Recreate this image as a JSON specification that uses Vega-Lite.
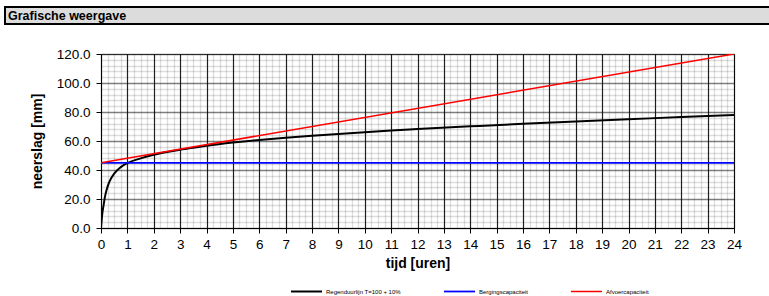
{
  "$schema": "https://vega.github.io/schema/vega-lite/v6.json",
  "padding": {"left": 4, "top": 6, "right": 0, "bottom": 0},
  "background": "white",
  "config": {"font": "Liberation Sans", "view": {"stroke": null}},
  "bounds": "flush",
  "center": true,
  "spacing": 30,
  "vconcat": [
    {
      "width": 825,
      "height": 17,
      "view": {"fill": "#dcdcdc", "stroke": "#000000", "strokeWidth": 2},
      "title": {
        "text": "Grafische weergave",
        "anchor": "start",
        "frame": "group",
        "orient": "none",
        "baseline": "alphabetic",
        "align": "left",
        "fontSize": 12.5,
        "fontWeight": "bold",
        "font": "Liberation Sans",
        "color": "#000000",
        "dx": 3,
        "dy": 13
      },
      "data": {"values": [{"k": 1}]},
      "mark": {"type": "text", "text": ""},
      "encoding": {}
    },
    {
      "width": 633,
      "height": 174,
      "view": {"stroke": "#595959", "strokeWidth": 1},
      "data": {
        "values": [
          {"series": "Regenduurlijn T=100 + 10%", "t": 0, "v": 0},
          {"series": "Regenduurlijn T=100 + 10%", "t": 0.05, "v": 10},
          {"series": "Regenduurlijn T=100 + 10%", "t": 0.1, "v": 16},
          {"series": "Regenduurlijn T=100 + 10%", "t": 0.167, "v": 23},
          {"series": "Regenduurlijn T=100 + 10%", "t": 0.25, "v": 28.5},
          {"series": "Regenduurlijn T=100 + 10%", "t": 0.333, "v": 32.5},
          {"series": "Regenduurlijn T=100 + 10%", "t": 0.5, "v": 37.5},
          {"series": "Regenduurlijn T=100 + 10%", "t": 0.75, "v": 42},
          {"series": "Regenduurlijn T=100 + 10%", "t": 1, "v": 44.8},
          {"series": "Regenduurlijn T=100 + 10%", "t": 1.5, "v": 48},
          {"series": "Regenduurlijn T=100 + 10%", "t": 2, "v": 50.5},
          {"series": "Regenduurlijn T=100 + 10%", "t": 2.5, "v": 52.4},
          {"series": "Regenduurlijn T=100 + 10%", "t": 3, "v": 54},
          {"series": "Regenduurlijn T=100 + 10%", "t": 3.5, "v": 55.4},
          {"series": "Regenduurlijn T=100 + 10%", "t": 4, "v": 56.7},
          {"series": "Regenduurlijn T=100 + 10%", "t": 5, "v": 58.9},
          {"series": "Regenduurlijn T=100 + 10%", "t": 6, "v": 60.7},
          {"series": "Regenduurlijn T=100 + 10%", "t": 7, "v": 62.2},
          {"series": "Regenduurlijn T=100 + 10%", "t": 8, "v": 63.6},
          {"series": "Regenduurlijn T=100 + 10%", "t": 9, "v": 64.9},
          {"series": "Regenduurlijn T=100 + 10%", "t": 10, "v": 66.1},
          {"series": "Regenduurlijn T=100 + 10%", "t": 11, "v": 67.2},
          {"series": "Regenduurlijn T=100 + 10%", "t": 12, "v": 68.2},
          {"series": "Regenduurlijn T=100 + 10%", "t": 14, "v": 70.1},
          {"series": "Regenduurlijn T=100 + 10%", "t": 16, "v": 71.9},
          {"series": "Regenduurlijn T=100 + 10%", "t": 18, "v": 73.5},
          {"series": "Regenduurlijn T=100 + 10%", "t": 20, "v": 75},
          {"series": "Regenduurlijn T=100 + 10%", "t": 22, "v": 76.5},
          {"series": "Regenduurlijn T=100 + 10%", "t": 24, "v": 77.9},
          {"series": "Bergingscapaciteit", "t": 0, "v": 45},
          {"series": "Bergingscapaciteit", "t": 24, "v": 45},
          {"series": "Afvoercapaciteit", "t": 0, "v": 45},
          {"series": "Afvoercapaciteit", "t": 24, "v": 120}
        ]
      },
      "mark": {"type": "line", "interpolate": "monotone", "clip": true},
      "encoding": {
        "x": {
          "field": "t",
          "type": "quantitative",
          "scale": {"domain": [0, 24], "nice": false, "zero": false},
          "axis": {
            "values": [0,0.25,0.5,0.75,1,1.25,1.5,1.75,2,2.25,2.5,2.75,3,3.25,3.5,3.75,4,4.25,4.5,4.75,5,5.25,5.5,5.75,6,6.25,6.5,6.75,7,7.25,7.5,7.75,8,8.25,8.5,8.75,9,9.25,9.5,9.75,10,10.25,10.5,10.75,11,11.25,11.5,11.75,12,12.25,12.5,12.75,13,13.25,13.5,13.75,14,14.25,14.5,14.75,15,15.25,15.5,15.75,16,16.25,16.5,16.75,17,17.25,17.5,17.75,18,18.25,18.5,18.75,19,19.25,19.5,19.75,20,20.25,20.5,20.75,21,21.25,21.5,21.75,22,22.25,22.5,22.75,23,23.25,23.5,23.75,24],
            "format": ".0f",
            "labelExpr": "datum.value % 1 === 0 ? datum.label : ''",
            "labelOverlap": false,
            "labelFlush": false,
            "labelFontSize": 13.5,
            "labelColor": "#000000",
            "labelPadding": 4,
            "grid": true,
            "gridColor": "#000000",
            "gridOpacity": {"condition": {"test": "datum.value % 1 === 0", "value": 0.88}, "value": 0.13},
            "gridWidth": {"condition": {"test": "datum.value % 1 === 0", "value": 1.2}, "value": 1.3},
            "tickColor": {"condition": {"test": "datum.value % 1 === 0", "value": "#000000"}, "value": "transparent"},
            "tickSize": 5,
            "domainColor": "#000000",
            "title": "tijd [uren]",
            "titleFontSize": 14,
            "titleFontWeight": "bold",
            "titleColor": "#000000",
            "titlePadding": 6
          }
        },
        "y": {
          "field": "v",
          "type": "quantitative",
          "scale": {"domain": [0, 120], "nice": false},
          "axis": {
            "values": [0,4,8,12,16,20,24,28,32,36,40,44,48,52,56,60,64,68,72,76,80,84,88,92,96,100,104,108,112,116,120],
            "format": ".1f",
            "labelExpr": "datum.value % 20 === 0 ? datum.label : ''",
            "labelOverlap": false,
            "labelFlush": false,
            "labelFontSize": 13.5,
            "labelColor": "#000000",
            "labelPadding": 6,
            "grid": true,
            "gridColor": "#000000",
            "gridOpacity": {"condition": {"test": "datum.value % 20 === 0", "value": 0.5}, "value": 0.13},
            "gridWidth": {"condition": {"test": "datum.value % 20 === 0", "value": 1.5}, "value": 1.3},
            "tickColor": {"condition": {"test": "datum.value % 20 === 0", "value": "#000000"}, "value": "transparent"},
            "tickSize": 5,
            "domainColor": "#000000",
            "title": "neerslag [mm]",
            "titleFontSize": 14,
            "titleFontWeight": "bold",
            "titleColor": "#000000",
            "titlePadding": 12
          }
        },
        "color": {
          "field": "series",
          "type": "nominal",
          "sort": null,
          "scale": {
            "domain": ["Regenduurlijn T=100 + 10%", "Bergingscapaciteit", "Afvoercapaciteit"],
            "range": ["#000000", "#0000ff", "#ff0000"]
          },
          "legend": {
            "orient": "none",
            "legendX": 285,
            "legendY": 268,
            "direction": "horizontal",
            "title": null,
            "symbolType": "stroke",
            "symbolSize": 961,
            "symbolStrokeWidth": 2,
            "labelFontSize": 6,
            "labelColor": "#000000",
            "labelOffset": 3,
            "columnPadding": 39,
            "gridAlign": "none"
          }
        },
        "strokeWidth": {
          "field": "series",
          "type": "nominal",
          "scale": {
            "domain": ["Regenduurlijn T=100 + 10%", "Bergingscapaciteit", "Afvoercapaciteit"],
            "range": [2, 1.5, 1.5]
          },
          "legend": null
        }
      }
    }
  ]
}
